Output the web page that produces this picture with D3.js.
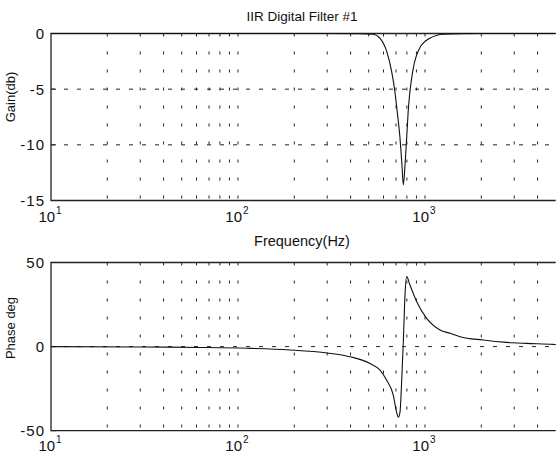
<!DOCTYPE html>
<html>
<head>
<meta charset="utf-8">
<script src="https://cdn.jsdelivr.net/npm/d3@7"></script>
<style>
  body { margin: 0; background: #fff; }
  text { font-family: "Liberation Sans", Arial, Helvetica, sans-serif; fill: #111; }
</style>
</head>
<body>
<div class="container"></div>
<script>
// values
const gainFreq = [10, 100, 300, 450, 528, 575, 624, 663, 690, 710, 735, 753, 766, 782, 798, 813, 831, 866, 937, 1062, 1253, 2000, 5000]
const gainDb = [0, 0, 0, -0.02, -0.07, -0.43, -1.6, -3.4, -5.2, -7.0, -9.4, -11.8, -13.6, -11.8, -9.4, -7.0, -5.2, -3.1, -1.3, -0.43, -0.07, 0, 0]

const phaseFreq = [10, 30, 62, 112, 190, 300, 397, 508, 575, 624, 677, 705, 720, 735, 750, 766, 782, 798, 831, 903, 1021, 1203, 1362, 1538, 2050, 2733, 3500, 4855, 5000]
const phaseDeg = [0, -0.2, -0.5, -1, -2, -3.8, -6, -10, -14, -20, -29, -39, -42, -39, -21, 3, 31, 41.6, 36.6, 26.7, 16.8, 9.9, 7.9, 5.9, 3.9, 2.5, 1.9, 1.3, 1.2]

const gridFreq = [20, 30, 40, 50, 60, 70, 80, 90, 100, 200, 300, 400, 500, 600, 700, 800, 900, 1000, 2000, 3000, 4000]
const xTicks = [10, 100, 1000]
const gainTicks = [0, -5, -10, -15]
const phaseTicks = [50, 0, -50]

const width = 557, height = 459
const left = 51, right = 555.7

const svg = d3.select(".container").append("svg")
    .attr("width", width)
    .attr("height", height)
    .attr("viewBox", [0, 0, width, height])

x = d3.scaleLog().domain([10, 5000]).range([left, right])

function panel(top, bottom, domain, ticks, gridY, xs, ys, ylabel, ylabelY, tickBase) {
    y = d3.scaleLinear().domain(domain).range([bottom, top])
    const g = svg.append("g")

    // vertical dotted grid
    g.append("g")
        .selectAll("line")
        .data(gridFreq)
        .join("line")
        .attr("x1", d => x(d)).attr("x2", d => x(d))
        .attr("y1", top).attr("y2", bottom)
        .attr("stroke", "#222")
        .attr("stroke-width", 1)
        .attr("stroke-dasharray", "3,15")

    // horizontal dashed grid
    g.append("g")
        .selectAll("line")
        .data(gridY)
        .join("line")
        .attr("x1", left).attr("x2", right)
        .attr("y1", d => y(d)).attr("y2", d => y(d))
        .attr("stroke", "#222")
        .attr("stroke-width", 1)
        .attr("stroke-dasharray", "4,9")

    // box (left, top, bottom)
    g.append("path")
        .attr("d", `M${right},${top}H${left}V${bottom}H${right}`)
        .attr("fill", "none")
        .attr("stroke", "#222")
        .attr("stroke-width", 1.3)

    // y tick labels + inward ticks
    const yt = g.append("g")
    yt.selectAll("text")
        .data(ticks)
        .join("text")
        .attr("x", left - 6)
        .attr("y", d => y(d))
        .attr("dy", "0.36em")
        .attr("text-anchor", "end")
        .style("font-size", "15px")
        .style("letter-spacing", "1px")
        .text(d => d)
    yt.selectAll("line")
        .data(ticks)
        .join("line")
        .attr("x1", left).attr("x2", left + 5)
        .attr("y1", d => y(d)).attr("y2", d => y(d))
        .attr("stroke", "#222")

    // x tick labels 10^n
    const xt = g.append("g").selectAll("text")
        .data(xTicks)
        .join("text")
        .attr("x", d => x(d) - 1)
        .attr("y", tickBase)
        .attr("text-anchor", "middle")
        .style("font-size", "15px")
    xt.append("tspan").text("10")
    xt.append("tspan")
        .attr("dy", -8)
        .attr("dx", 1)
        .style("font-size", "10px")
        .text(d => Math.round(Math.log10(d)))

    // curve
    const line = d3.line()
        .x(d => x(d[0]))
        .y(d => y(d[1]))
        .curve(d3.curveMonotoneX)
    g.append("path")
        .datum(xs.map((f, i) => [f, ys[i]]))
        .attr("fill", "none")
        .attr("stroke", "#111")
        .attr("stroke-width", 1.1)
        .attr("d", line)

    // y label
    g.append("text")
        .attr("transform", `translate(15,${ylabelY}) rotate(-90)`)
        .attr("text-anchor", "middle")
        .style("font-size", "13px")
        .text(ylabel)
}

panel(33.5, 200.5, [-15, 0], gainTicks, [-5, -10], gainFreq, gainDb, "Gain(db)", 97, 222)
panel(262.5, 430.7, [-50, 50], phaseTicks, [0], phaseFreq, phaseDeg, "Phase deg", 328, 451)

svg.append("text")
    .attr("x", 302)
    .attr("y", 21)
    .attr("text-anchor", "middle")
    .style("font-size", "13.5px")
    .text("IIR Digital Filter #1")

svg.append("text")
    .attr("x", 302)
    .attr("y", 246)
    .attr("text-anchor", "middle")
    .style("font-size", "14.5px")
    .text("Frequency(Hz)")
</script>
</body>
</html>
